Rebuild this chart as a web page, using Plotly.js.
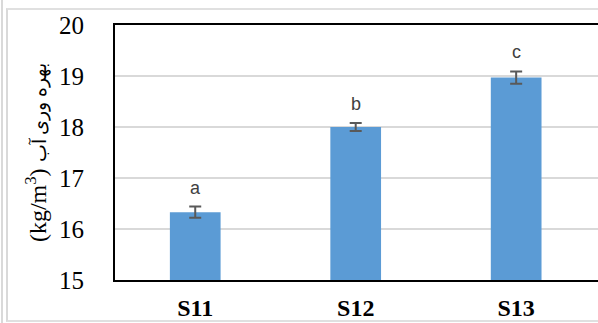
<!DOCTYPE html>
<html>
<head>
<meta charset="utf-8">
<script src="https://cdn.plot.ly/plotly-3.0.1.min.js"></script>
<style>
  html, body { margin: 0; padding: 0; background: #fff; }
  #wrap { position: relative; width: 598px; height: 323px; overflow: hidden; }
  #frameA { position: absolute; left: 1px; top: 0; width: 2px; height: 323px; background: #d9d9d9; }
  #frameB { position: absolute; left: 6px; top: 8px; right: -4px; bottom: 1px;
            border-left: 2px solid #d9d9d9; border-top: 2px solid #e0e0e0; border-bottom: 2px solid #e0e0e0; }
  #chart { position: absolute; left: 0; top: 0; width: 598px; height: 323px; }
</style>
</head>
<body>
<div id="wrap">
  <div id="frameA"></div>
  <div id="frameB"></div>
  <div id="chart"></div>
</div>
<script>
const categories = ["S11", "S12", "S13"];
const values = [16.33, 18.00, 18.97];
const errors = [0.11, 0.08, 0.12];
const letters = ["a", "b", "c"];
const yTickValues = [15, 16, 17, 18, 19, 20];

const SERIF = "Liberation Serif";

const trace = {
  type: "bar",
  x: categories,
  y: values,
  marker: { color: "#5b9bd5" },
  error_y: { type: "data", array: errors, visible: true, color: "#595959", thickness: 2, width: 6 },
  hoverinfo: "none"
};

const annotations = categories.map((c, i) => ({
  x: c, y: values[i] + errors[i], xref: "x", yref: "y",
  text: letters[i], showarrow: false, yanchor: "middle", yshift: 19,
  font: { family: "Liberation Sans", size: 18, color: "#404040" }
}));

const layout = {
  width: 598, height: 323,
  margin: { l: 115, r: 0, t: 25, b: 43 },
  paper_bgcolor: "rgba(0,0,0,0)",
  plot_bgcolor: "rgba(0,0,0,0)",
  showlegend: false,
  bargap: 0.684,
  xaxis: {
    type: "category",
    range: [-0.5, 2.51],
    showline: true, linecolor: "#000", linewidth: 2, mirror: true,
    showgrid: false, ticks: "",
    ticklabelstandoff: 5,
    tickfont: { family: SERIF, size: 24, color: "#000", weight: "bold" }
  },
  yaxis: {
    range: [15, 20],
    tickvals: yTickValues,
    showline: true, linecolor: "#000", linewidth: 2, mirror: false,
    showgrid: true, gridcolor: "#d9d9d9", gridwidth: 2,
    zeroline: false, ticks: "",
    ticklabelstandoff: 24,
    tickfont: { family: SERIF, size: 25, color: "#000" },
    title: {
      text: "(kg/m<sup>3</sup>) <span style=\"font-size:19px\">بهره وری آب</span>",
      standoff: 6,
      font: { family: SERIF, size: 24, color: "#000" }
    }
  },
  annotations: annotations
};

Plotly.newPlot("chart", [trace], layout, { displayModeBar: false, staticPlot: true });
</script>
</body>
</html>
